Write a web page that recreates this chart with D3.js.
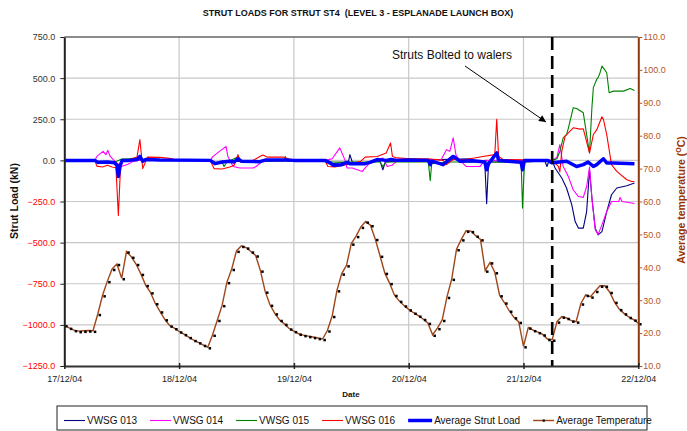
<!DOCTYPE html>
<html>
<head>
<meta charset="utf-8">
<script src="https://cdn.jsdelivr.net/npm/d3@7"></script>
<style>
body{margin:0;background:#fff;}
svg{display:block;font-family:"Liberation Sans",Arial,sans-serif;}
</style>
</head>
<body>
<svg id="chart" width="687" height="431"></svg>
<script>
// ---- data (hours counted from 17/12/04 00:00) ----
var startDate = new Date(2004, 11, 17);
var dateLabels = ['17/12/04','18/12/04','19/12/04','20/12/04','21/12/04','22/12/04'];
var loadTicks = [-1250,-1000,-750,-500,-250,0,250,500,750];
var tempTicks = [10,20,30,40,50,60,70,80,90,100,110];
var boltedHour = 102;

// average temperature, one reading per hour
var tempValues = [22.4,21.6,20.9,20.6,20.7,20.8,20.7,25.8,31.5,35.8,
  39.5,41.0,36.7,44.8,43.2,41.0,38.0,34.6,32.4,29.1,
  26.6,24.2,22.3,21.5,20.5,19.7,18.8,17.9,17.2,16.4,
  15.7,19.5,24.0,28.5,35.5,39.5,45.0,46.5,46.0,44.8,
  43.6,39.0,32.6,28.6,26.0,24.0,22.8,21.4,20.6,19.8,
  19.4,19.1,18.8,18.5,18.2,20.8,25.2,33.0,38.1,40.6,
  47.2,49.5,52.3,53.9,52.8,48.6,43.5,38.3,35.2,31.6,
  29.8,28.4,27.2,26.2,25.3,24.3,23.1,19.5,21.5,24.0,
  31.0,36.5,45.5,48.5,51.1,51.0,49.6,48.5,39.0,41.5,
  38.5,31.5,29.3,26.8,24.8,23.4,16.0,21.7,20.9,20.3,
  19.6,18.2,18.0,23.5,25.0,24.6,23.8,23.5,29.0,31.6,
  31.1,32.8,34.4,34.4,32.5,29.5,27.3,26.0,24.9,24.1,23.0];

var vw013Hours = [0,6.4,7,10,11,11.3,11.7,12.1,16,30.5,31.5,33,35,40,44,54.5,56,59.4,59.7,60.2,63,66,66.6,67.1,72,85,86,87.9,88.3,88.7,95,100.5,100.9,101.3,102,102.6,104,105,106.1,106.8,107.5,108.5,109.2,109.8,110.3,111,111.6,112.4,113.4,114.4,115.5,117.6,119.2];
var vw013 = [0,0,-10,-12,-20,-60,-20,0,5,0,-15,-12,-5,-10,0,0,-20,-10,35,-10,-15,-5,-57,-10,0,10,-5,-10,-264,-10,-10,-5,-37,-5,0,-46,-107,-168,-270,-372,-412,-412,-311,-57,-229,-412,-453,-433,-311,-209,-168,-154,-138];

var vw014Hours = [0,6.4,6.8,8.1,8.7,9.1,9.6,10.6,11.9,13.3,14.4,15.5,30.5,31.1,33.8,34.2,35.3,36.7,39.5,40.1,40.9,41.5,54.5,56,57.6,58.7,59.1,60.2,62.3,62.9,63.9,65.4,66.6,67.5,68.5,69.5,72,78.8,79.9,80.6,81.3,81.9,82.7,84,86.9,87.9,102,103,103.6,104.3,105.4,106.4,107.5,108.5,109.2,109.8,110.3,111,111.6,112.4,113.4,114.4,115.9,116.2,116.6,119.2];
var vw014 = [0,0,24,55,34,61,24,-6,-37,-24,-6,0,0,24,85,24,-37,-46,-46,-37,-18,0,0,10,76,0,-46,-46,-67,-46,-15,-5,15,-37,-30,-5,0,5,65,55,137,30,0,-37,-37,0,0,20,96,-37,-100,-180,-220,-225,-159,-40,-229,-423,-450,-392,-311,-250,-250,-226,-250,-262];

var vw015Hours = [0,6.4,7,10,11,12,14,16,18,30.5,31.5,33,33.4,34,36.3,37,40,46,46.2,46.5,48,54.5,56,66,66.6,67.3,76.1,76.5,76.8,80,95.5,95.8,96.2,101,102,103,103.6,104.3,105,105.4,106.4,107.1,108.5,109.2,109.8,110.3,110.6,111.3,111.6,112,112.4,113,113.4,113.9,114.8,116.9,118.3,119.2];
var vw015 = [0,-5,-12,-15,-5,8,10,5,0,0,-10,-12,-37,-10,21,0,-5,-5,24,-5,0,0,-10,-10,-37,-10,-10,-124,-20,-10,-10,-290,-10,0,0,10,55,137,157,198,320,315,289,157,45,320,442,492,503,533,573,550,533,411,421,421,437,425];

var vw016Hours = [0,6.4,6.8,8,9,10,10.8,11.3,11.8,12.5,14,15.2,15.8,16.4,17.4,20,22,23.1,24.2,30.5,31.3,33,34.6,35.5,36.3,36.8,39.5,40.9,41.5,42.4,45.7,47,49,54.5,55.1,56.6,58.3,60,62,62.9,65.4,67.3,68.2,68.6,69.5,72.3,76,79.2,79.9,81.3,84,87.5,90,90.4,90.8,91.7,102,103.3,103.6,104,104.7,106.4,107.8,108.5,109.8,110.6,111.3,112.4,112.7,113.4,114.4,115.5,117.6,118.6,119.2];
var vw016 = [0,0,-35,-40,-30,-40,-45,-335,-10,-5,10,20,126,-50,20,18,12,5,0,0,-50,-52,-40,-30,35,-10,0,24,33,20,20,8,0,0,-37,-40,-30,-20,-5,20,24,45,106,24,15,10,10,0,-26,5,5,24,35,250,24,5,0,-37,-70,55,147,198,190,192,45,157,185,265,250,157,-26,-67,-118,-128,-128];

var avgHours = [0,6.4,7,9,10.5,11,11.3,11.7,12.1,13.5,15.2,15.8,16.4,17,20,30.5,31.5,33,34.6,35.5,36.3,37,40.9,42,46,48,54.5,55.5,56.3,58,59.1,59.7,62.9,63.9,65.4,67.3,68.3,69.5,72.3,76.1,76.5,76.8,79.2,81.3,82.7,85.4,87.9,88.3,88.7,90.4,90.8,95.5,95.8,96.2,101,102,105,107.1,108.5,109.5,110.6,111.3,112.7,113.4,114.8,119.2];
var avgLoad = [0,0,-12,-10,-15,-30,-98,-30,0,0,5,24,-5,5,2,0,-20,-10,-5,-10,10,-5,-8,2,2,0,0,-15,-30,-26,-12,-20,-20,-12,5,0,5,0,2,0,-26,-5,-26,24,-5,-2,-10,-57,-20,45,0,-12,-57,0,0,-15,-5,-37,-26,-10,-37,-26,10,-16,-16,-21];

// ---- setup ----
var svg = d3.select('#chart');
var font = '"Liberation Sans",Arial,sans-serif';
var plotL = 64.3, plotR = 638.3, plotT = 37, plotB = 366;

var atHour = function(h){ return new Date(startDate.getTime() + h*3600000); };
var zip = function(hours, vals){ return hours.map(function(h, i){ return [h, vals[i]]; }); };

var x = d3.scaleTime().domain([atHour(0), atHour(120)]).range([plotL, plotR]);
var yLoad = d3.scaleLinear().domain([-1250, 750]).range([plotB, plotT]);
var yTemp = d3.scaleLinear().domain([10, 110]).range([plotB, plotT]);
var dayTicks = dateLabels.map(function(d, i){ return atHour(24*i); });

// gridlines
var grid = svg.append('g').attr('stroke', '#c8c8c8').attr('stroke-width', 1.2);
grid.selectAll('line.h').data(loadTicks.slice(1, -1)).enter().append('line')
    .attr('x1', plotL).attr('x2', plotR)
    .attr('y1', function(d){ return yLoad(d); }).attr('y2', function(d){ return yLoad(d); });
grid.selectAll('line.v').data(dayTicks.slice(1, -1)).enter().append('line')
    .attr('y1', plotT).attr('y2', plotB)
    .attr('x1', function(d){ return x(d); }).attr('x2', function(d){ return x(d); });

// top border
svg.append('line').attr('x1', plotL).attr('x2', plotR).attr('y1', plotT).attr('y2', plotT)
    .attr('stroke', '#666').attr('stroke-width', 1.5);

// load series
var loadLine = d3.line().x(function(d){ return x(atHour(d[0])); }).y(function(d){ return yLoad(d[1]); });
var series = [
    {name:'VWSG 013', data:zip(vw013Hours, vw013), color:'#000080', width:1.1},
    {name:'VWSG 014', data:zip(vw014Hours, vw014), color:'#ff00ff', width:1.1},
    {name:'VWSG 015', data:zip(vw015Hours, vw015), color:'#008000', width:1.1},
    {name:'VWSG 016', data:zip(vw016Hours, vw016), color:'#ff0000', width:1.1},
    {name:'Average Strut Load', data:zip(avgHours, avgLoad), color:'#0000ff', width:3.5}
];
series.forEach(function(s){
    svg.append('path').datum(s.data).attr('d', loadLine)
        .attr('fill', 'none').attr('stroke', s.color).attr('stroke-width', s.width)
        .attr('stroke-linejoin', 'round');
});

// temperature
var tempColor = '#a0461a';
var tempData = tempValues.map(function(v, i){ return [i, v]; });
var tempLine = d3.line().x(function(d){ return x(atHour(d[0])); }).y(function(d){ return yTemp(d[1]); });
svg.append('path').datum(tempData).attr('d', tempLine)
    .attr('fill', 'none').attr('stroke', tempColor).attr('stroke-width', 1.4);
svg.append('g').selectAll('rect').data(tempData).enter().append('rect')
    .attr('x', function(d){ return x(atHour(d[0])) + 0.8; })
    .attr('y', function(d){ return yTemp(d[1]) - 0.2; })
    .attr('width', 2.5).attr('height', 2.5).attr('fill', '#000');

// struts bolted marker
svg.append('line').attr('x1', x(atHour(boltedHour))).attr('x2', x(atHour(boltedHour)))
    .attr('y1', plotT).attr('y2', plotB)
    .attr('stroke', '#000').attr('stroke-width', 2.6).attr('stroke-dasharray', '13,6');

svg.append('defs').append('marker').attr('id', 'arrow')
    .attr('viewBox', '0 0 10 10').attr('refX', 10).attr('refY', 5)
    .attr('markerWidth', 9).attr('markerHeight', 7).attr('markerUnits', 'userSpaceOnUse')
    .attr('orient', 'auto')
    .append('path').attr('d', 'M0,0L10,5L0,10z').attr('fill', '#000');
svg.append('line').attr('x1', 465).attr('y1', 66).attr('x2', 546).attr('y2', 122)
    .attr('stroke', '#000').attr('stroke-width', 1).attr('marker-end', 'url(#arrow)');
svg.append('text').attr('x', 452).attr('y', 59).attr('text-anchor', 'middle')
    .attr('font-size', 12).attr('fill', '#111').text('Struts Bolted to walers');

// axes
var fmt = d3.format('.1f');
var gL = svg.append('g').attr('transform', 'translate(' + plotL + ',0)')
    .call(d3.axisLeft(yLoad).tickValues(loadTicks).tickFormat(fmt).tickSizeInner(4).tickSizeOuter(0).tickPadding(5));
gL.select('.domain').attr('stroke', '#222').attr('stroke-width', 2);
gL.selectAll('.tick line').attr('stroke', '#222');
gL.selectAll('.tick text').attr('font-size', 9).attr('font-family', font)
    .attr('fill', function(d){ return d < 0 ? '#ff0000' : '#333'; });

var gR = svg.append('g').attr('transform', 'translate(' + plotR + ',0)')
    .call(d3.axisRight(yTemp).tickValues(tempTicks).tickFormat(fmt).tickSizeInner(4).tickSizeOuter(0).tickPadding(1));
gR.select('.domain').attr('stroke', '#8b3a0f').attr('stroke-width', 2);
gR.selectAll('.tick line').attr('stroke', '#b5541c');
gR.selectAll('.tick text').attr('font-size', 9).attr('font-family', font).attr('fill', '#b5541c');

var gB = svg.append('g').attr('transform', 'translate(0,' + plotB + ')')
    .call(d3.axisBottom(x).tickValues(dayTicks).tickFormat(function(d, i){ return dateLabels[i]; })
        .tickSizeInner(3).tickSizeOuter(0).tickPadding(7));
gB.select('.domain').attr('stroke', '#333').attr('stroke-width', 2);
gB.selectAll('.tick line').attr('stroke', '#222').attr('stroke-width', 1.5).attr('y1', -3);
gB.selectAll('.tick text').attr('font-size', 9).attr('font-family', font).attr('fill', '#222');

// titles
svg.append('text').attr('x', 358).attr('y', 16).attr('text-anchor', 'middle')
    .attr('font-size', 9).attr('font-weight', 'bold').attr('fill', '#111')
    .style('white-space', 'pre')
    .text('STRUT LOADS FOR STRUT ST4  (LEVEL 3 - ESPLANADE LAUNCH BOX)');
svg.append('text').attr('x', 351).attr('y', 397).attr('text-anchor', 'middle')
    .attr('font-size', 8).attr('font-weight', 'bold').attr('fill', '#111').text('Date');
svg.append('text').attr('transform', 'translate(18,201) rotate(-90)').attr('text-anchor', 'middle')
    .attr('font-size', 10.5).attr('font-weight', 'bold').attr('fill', '#111').text('Strut Load (kN)');
var rt = svg.append('text').attr('transform', 'translate(685,200) rotate(-90)').attr('text-anchor', 'middle')
    .attr('font-size', 10.5).attr('font-weight', 'bold').attr('fill', '#993300');
rt.append('tspan').text('Average temperature (');
rt.append('tspan').attr('font-size', 7).attr('dy', -4).text('O');
rt.append('tspan').attr('dy', 4).text('C)');

// legend
svg.append('rect').attr('x', 57).attr('y', 406).attr('width', 590).attr('height', 24)
    .attr('fill', '#fff').attr('stroke', '#222').attr('stroke-width', 1);
var items = series.concat([{name:'Average Temperature', color:tempColor, width:1.4, marker:true}]);
var lx = 64;
items.forEach(function(s){
    var g = svg.append('g');
    var len = s.width > 2 ? 24 : 21;
    g.append('line').attr('x1', lx).attr('x2', lx + len).attr('y1', 420.5).attr('y2', 420.5)
        .attr('stroke', s.color).attr('stroke-width', s.width);
    if(s.marker) g.append('rect').attr('x', lx + len/2 - 1).attr('y', 419.5).attr('width', 2.2).attr('height', 2.2).attr('fill', '#000');
    var t = g.append('text').attr('x', lx + len + 2).attr('y', 424.3)
        .attr('font-size', 10).attr('fill', '#111').text(s.name);
    lx += len + 2 + t.node().getComputedTextLength() + 13;
});
</script>
</body>
</html>
